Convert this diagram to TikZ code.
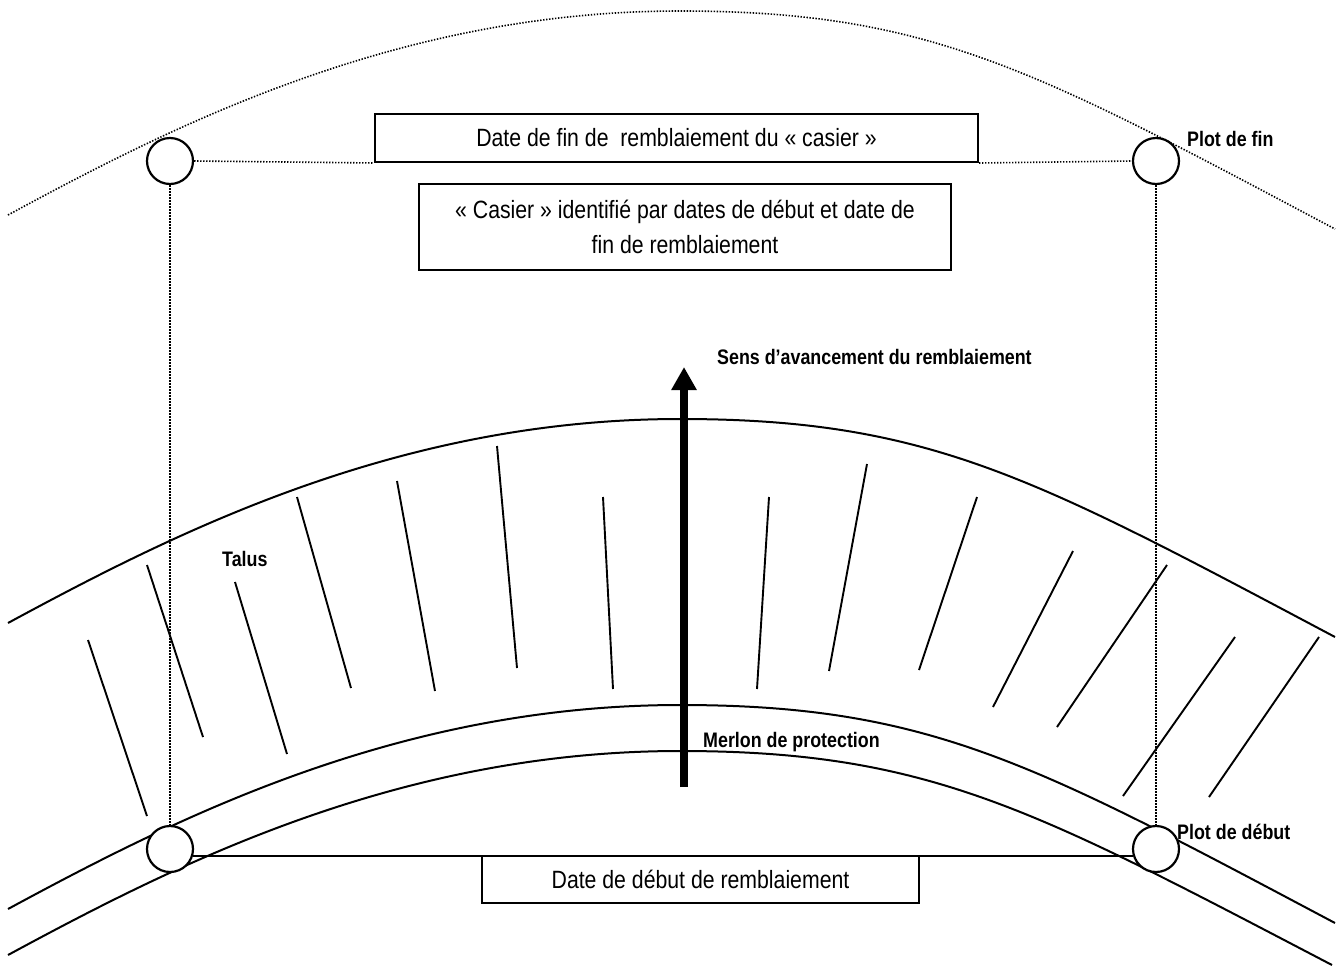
\documentclass[tikz,border=0pt]{standalone}
\usepackage{fontspec}
\setmainfont{Liberation Sans}[FakeStretch=0.85]
\usetikzlibrary{arrows.meta}

\tikzset{
  borne/.style={circle, draw, line width=2.2pt, fill=white, minimum size=46pt, inner sep=0pt},
  cadre/.style={rectangle, draw, line width=2pt, fill=white, inner sep=0pt, align=center,
    font=\fontsize{25}{35}\selectfont},
  legende/.style={inner sep=0pt, anchor=base west, font=\bfseries\fontsize{21}{25}\selectfont},
  pointille/.style={line width=1.6pt, dash pattern=on 1.4pt off 1.6pt},
  trait/.style={line width=2pt},
  hachure/.style={line width=1.9pt},
  fleche/.style={line width=7.5pt, -{Triangle[length=23pt,width=24pt]}}
}

\begin{document}
\begin{tikzpicture}[x=1pt,y=-1pt]
	\useasboundingbox (0,0) rectangle (1341,967);

	% Limite du casier (pointillés) ------------------------------------------
	\draw[pointille] (8,215) .. controls (178,123) and (400,11) .. (680,11) .. controls (930,11) and (1035,70) .. (1335,229);

	% Talus et merlon ----------------------------------------------------------
	\draw[trait] (8,623) .. controls (178,531) and (400,419) .. (680,419) .. controls (930,419) and (1035,478) .. (1335,637); % haut du talus
	\draw[trait] (8,909) .. controls (178,817) and (400,705) .. (680,705) .. controls (930,705) and (1035,764) .. (1335,923); % merlon haut
	\draw[trait] (8,955) .. controls (178,863) and (400,751) .. (680,751) .. controls (930,751) and (1035,810) .. (1332,965); % merlon bas

	% hachures du talus
	\foreach \xa/\ya/\xb/\yb in {88/640/147/816, 147/565/203/737, 235/582/287/754, 297/497/351/688,
		397/481/435/691, 497/446/517/668, 603/497/613/689, 769/497/757/689, 867/464/829/671,
		977/497/919/670, 1073/551/993/707, 1167/565/1057/727, 1235/637/1123/796, 1319/637/1209/797}
		\draw[hachure] (\xa,\ya) -- (\xb,\yb);

	% Plots de début et de fin -------------------------------------------------
	\node[borne] (finG) at (170,161) {};
	\node[borne] (finD) at (1156,161) {};
	\node[borne] (debG) at (170,849) {};
	\node[borne] (debD) at (1156,849) {};

	% Cadres
	\node[cadre, minimum width=603pt, minimum height=48pt] (datefin) at (676.5,138) {Date de fin de~ remblaiement du «~casier~»};
	\node[cadre, minimum width=532pt, minimum height=86pt] (casier) at (685,227) {«~Casier~» identifié par dates de début et date de\\fin de remblaiement};
	\node[cadre, minimum width=437pt, minimum height=47pt] (datedebut) at (700.5,879.5) {Date de début de remblaiement};

	% liaisons
	\draw[pointille] (finG.east) -- (datefin.south west);
	\draw[pointille] (datefin.south east) -- (finD.west);
	\draw[pointille] (finG.south) -- (debG.north);
	\draw[pointille] (finD.south) -- (debD.north);
	\draw[trait] (debG.-18) -- (debD.198);

	% Sens d'avancement
	\coordinate (basefleche) at (684,787);
	\coordinate (pointefleche) at (684,367);
	\draw[fleche] (basefleche) -- (pointefleche);

	% Légendes
	\node[legende] (sens) at (717,364) {Sens d’avancement du remblaiement};
	\node[legende] (merlon) at (703,747) {Merlon de protection};
	\node[legende] (talus) at (222,566) {Talus};
	\node[legende] (lblfin) at (1187,146) {Plot de fin};
	\node[legende] (lbldebut) at (1177,839) {Plot de début};
\end{tikzpicture}
\end{document}
